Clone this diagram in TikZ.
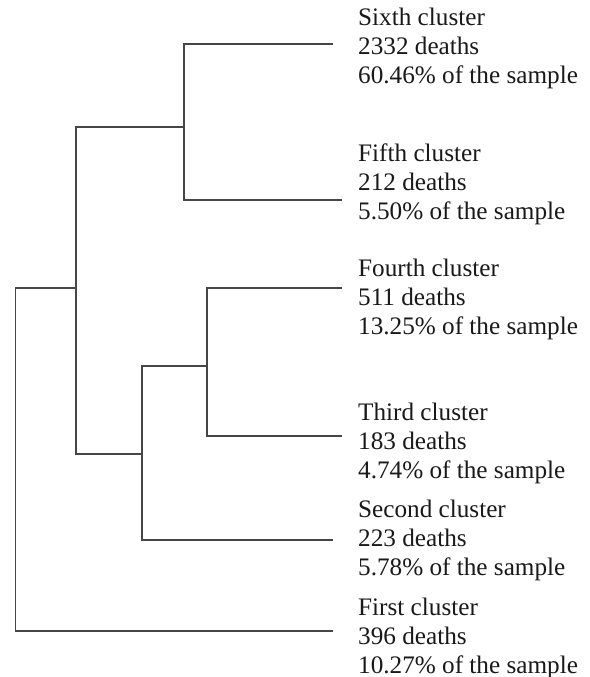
\documentclass[tikz,border=0pt]{standalone}
\usepackage{fontspec}
\setmainfont{Liberation Serif}
\definecolor{linegray}{RGB}{70,70,70}
\definecolor{txt}{RGB}{25,25,25}
\begin{document}
\begin{tikzpicture}[x=1pt,y=-1pt,
  branch/.style={draw=linegray,line width=1.4pt},
  lbl/.style={anchor=base west,inner sep=0pt,text=txt,font=\fontsize{25.2}{29}\selectfont}]
\useasboundingbox[fill=white] (0,0) rectangle (589,677);
% leaf ends
\coordinate (e6) at (333,44);
\coordinate (e5) at (342,200);
\coordinate (e4) at (342,288);
\coordinate (e3) at (342,436);
\coordinate (e2) at (333,540);
\coordinate (e1) at (333,631);
% joins
\coordinate (j65) at (184,127);
\coordinate (j43) at (207,366);
\coordinate (j432) at (142,454);
\coordinate (j52) at (76,288);
\coordinate (jr) at (15.7,460);
\draw[branch] (e6) -| (j65) |- (e5);
\draw[branch] (e4) -| (j43) |- (e3);
\draw[branch] (j43) -| (j432) |- (e2);
\draw[branch] (j65) -| (j52) |- (j432);
\draw[branch] (j52) -| (jr) |- (e1);
% labels
\node[lbl] (t6a) at (358,26) {Sixth cluster};
\node[lbl] (t6b) at (358,55) {2332 deaths};
\node[lbl] (t6c) at (358,84) {60.46\% of the sample};
\node[lbl] (t5a) at (358,161) {Fifth cluster};
\node[lbl] (t5b) at (358,190) {212 deaths};
\node[lbl] (t5c) at (358,219) {5.50\% of the sample};
\node[lbl] (t4a) at (358,276) {Fourth cluster};
\node[lbl] (t4b) at (358,305) {511 deaths};
\node[lbl] (t4c) at (358,334) {13.25\% of the sample};
\node[lbl] (t3a) at (358,420) {Third cluster};
\node[lbl] (t3b) at (358,449) {183 deaths};
\node[lbl] (t3c) at (358,478) {4.74\% of the sample};
\node[lbl] (t2a) at (358,517) {Second cluster};
\node[lbl] (t2b) at (358,546) {223 deaths};
\node[lbl] (t2c) at (358,575) {5.78\% of the sample};
\node[lbl] (t1a) at (358,615) {First cluster};
\node[lbl] (t1b) at (358,644) {396 deaths};
\node[lbl] (t1c) at (358,673) {10.27\% of the sample};
\end{tikzpicture}
\end{document}
